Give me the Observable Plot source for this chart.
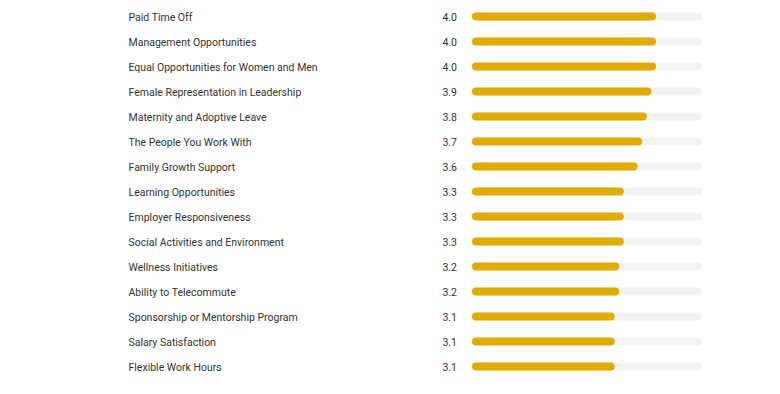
<!DOCTYPE html>
<html>
<head>
<meta charset="utf-8">
<script src="https://cdn.jsdelivr.net/npm/d3@7"></script>
<script src="https://cdn.jsdelivr.net/npm/@observablehq/plot@0.6"></script>
<style>
  html, body { margin: 0; padding: 0; background: #fff; }
  svg { display: block; }
</style>
</head>
<body>
<div id="chart"></div>
<script>
const categories = [
  "Paid Time Off",
  "Management Opportunities",
  "Equal Opportunities for Women and Men",
  "Female Representation in Leadership",
  "Maternity and Adoptive Leave",
  "The People You Work With",
  "Family Growth Support",
  "Learning Opportunities",
  "Employer Responsiveness",
  "Social Activities and Environment",
  "Wellness Initiatives",
  "Ability to Telecommute",
  "Sponsorship or Mentorship Program",
  "Salary Satisfaction",
  "Flexible Work Hours"
];
const ratings = [4.0, 4.0, 4.0, 3.9, 3.8, 3.7, 3.6, 3.3, 3.3, 3.3, 3.2, 3.2, 3.1, 3.1, 3.1];
const maxRating = 5;

const data = categories.map((c, i) => ({category: c, rating: ratings[i], max: maxRating}));

const chart = Plot.plot({
  width: 780,
  height: 394,
  marginLeft: 472,
  marginRight: 78,
  marginTop: 3.5,
  marginBottom: 15.5,
  style: {fontFamily: "Roboto", fontSize: "10.5px", color: "#333", background: "#fff"},
  x: {domain: [0, maxRating], axis: null},
  y: {domain: categories, padding: 0, axis: null},
  marks: [
    Plot.barX(data, {y: "category", x1: 0, x2: "max", fill: "#f3f3f3", insetTop: 8.5, insetBottom: 8.5, rx: 4}),
    Plot.barX(data, {y: "category", x1: 0, x2: "rating", fill: "#e0ac00", insetTop: 8.5, insetBottom: 8.5, rx: 4}),
    Plot.text(data, {y: "category", text: "category", frameAnchor: "left", textAnchor: "start", dx: -344, dy: 0.5, fill: "#333", fontSize: 10.5}),
    Plot.text(data, {y: "category", text: d => d.rating.toFixed(1), frameAnchor: "left", textAnchor: "end", dx: -15.5, dy: 0.5, fill: "#333", fontSize: 10.5})
  ]
});
document.getElementById("chart").appendChild(chart);
</script>
</body>
</html>
